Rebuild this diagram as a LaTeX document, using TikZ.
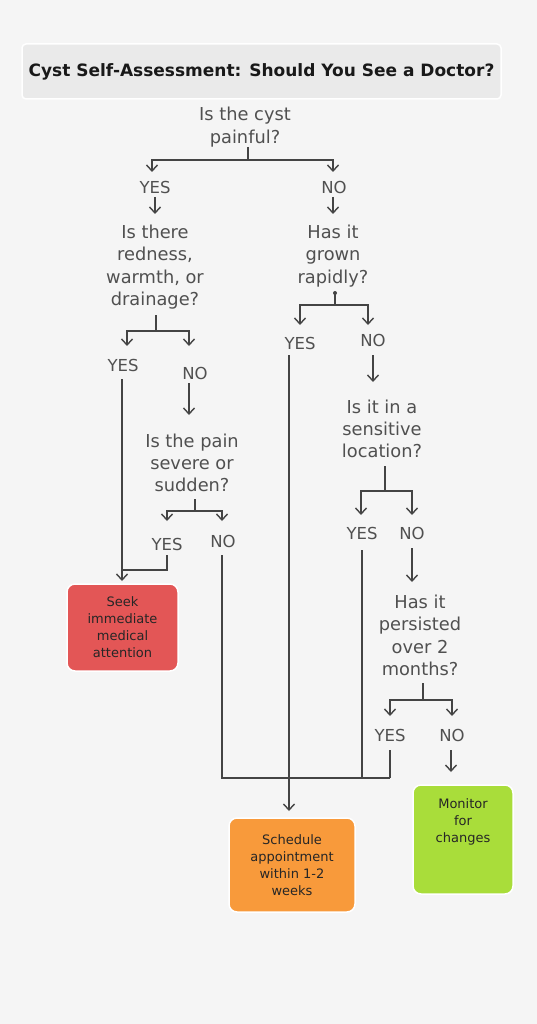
\documentclass[tikz,border=0pt]{standalone}
\usepackage{fontspec}
\setmainfont{DejaVu Sans}
\usetikzlibrary{arrows.meta}
\definecolor{bg}{HTML}{F5F5F5}
\definecolor{titlebg}{HTML}{EAEAEA}
\definecolor{lncol}{HTML}{444444}
\definecolor{txt}{HTML}{505050}
\definecolor{redf}{HTML}{E35656}
\definecolor{orf}{HTML}{F89A3B}
\definecolor{grf}{HTML}{A9DD3A}
\begin{document}
\begin{tikzpicture}[x=1pt,y=-1pt,
 q/.style={align=center, text=txt, font=\fontsize{17.8}{22.3}\selectfont, inner sep=0pt},
 ans/.style={text=txt, font=\fontsize{16.5}{18}\selectfont, inner sep=0pt},
 res/.style={rounded corners=8pt, draw=white, line width=1.5pt, align=center,
   font=\fontsize{13}{17}\selectfont, text=black!85, inner sep=0pt},
 ln/.style={draw=lncol, line width=1.4pt},
 arr/.style={ln, -{Straight Barb[length=6pt,width=11pt,line width=1.4pt]}},
]
\useasboundingbox (0,0) rectangle (537,1024);
\fill[bg] (0,0) rectangle (537,1024);

% title
\node[draw=white, line width=1.5pt, fill=titlebg, rounded corners=4pt,
  minimum width=479pt, minimum height=55pt, inner sep=0pt,
  font=\bfseries\fontsize{17}{20}\selectfont, text=black!90] (title) at (261.5,71.5)
  {Cyst Self-Assessment: Should You See a Doctor?};

% questions
\node[q] (q1) at (245,127) {Is the cyst\\painful?};
\node[q] (q2) at (155,267) {Is there\\redness,\\warmth, or\\drainage?};
\node[q] (q3) at (333,256) {Has it\\grown\\rapidly?};
\node[q] (q4) at (192,463) {Is the pain\\severe or\\sudden?};
\node[q] (q5) at (382,429) {Is it in a\\sensitive\\location?};
\node[q] (q6) at (420,635.5) {Has it\\persisted\\over 2\\months?};

% answers
\node[ans] (y1) at (155,187) {YES};
\node[ans] (n1) at (334,187) {NO};
\node[ans] (y2) at (123,365) {YES};
\node[ans] (n2) at (195,373) {NO};
\node[ans] (y3) at (300,343) {YES};
\node[ans] (n3) at (373,340) {NO};
\node[ans] (y4) at (167,544) {YES};
\node[ans] (n4) at (223,541) {NO};
\node[ans] (y5) at (362,533) {YES};
\node[ans] (n5) at (412,533) {NO};
\node[ans] (y6) at (390,735) {YES};
\node[ans] (n6) at (452,735) {NO};

% results
\node[res, fill=redf, minimum width=111pt, minimum height=87pt] (red) at (122.5,627.5)
  {Seek\\immediate\\medical\\attention};
\node[res, fill=orf, minimum width=126pt, minimum height=94pt] (ora) at (292,865)
  {Schedule\\appointment\\within 1-2\\weeks};
\node[res, fill=grf, minimum width=100pt, minimum height=109pt] (gre) at (463,839.5) {};
\node[align=center, font=\fontsize{13}{17}\selectfont, text=black!85, inner sep=0pt]
  (gret) at (463,822) {Monitor\\for\\changes};

% coordinates
\coordinate (j1) at (248,160);
\coordinate (t1y) at (152,172);
\coordinate (t1n) at (333,172);
\coordinate (j2) at (156,331);
\coordinate (t2y) at (127,346);
\coordinate (t2n) at (189,346);
\coordinate (d3) at (335,293);
\coordinate (j3) at (335,305);
\coordinate (t3y) at (300,325);
\coordinate (t3n) at (368,325);
\coordinate (j4) at (195,511);
\coordinate (t4y) at (167,521);
\coordinate (t4n) at (222,521);
\coordinate (j5) at (385,491);
\coordinate (t5y) at (361,515);
\coordinate (t5n) at (412,515);
\coordinate (j6) at (423,700);
\coordinate (t6y) at (390,716);
\coordinate (t6n) at (452,716);
\coordinate (m1) at (122,570);
\coordinate (m2) at (222,778);
\coordinate (m3) at (390,778);

% Q1
\draw[ln] (248,147) -- (j1);
\draw[arr] (j1) -| (t1y);
\draw[arr] (j1) -| (t1n);
\draw[arr] (155,197) -- (155,214);
\draw[arr] (333,197) -- (333,214);
% Q2
\draw[ln] (156,315) -- (j2);
\draw[arr] (j2) -| (t2y);
\draw[arr] (j2) -| (t2n);
\draw[arr] (122,379) -- (122,581);
\draw[arr] (189,383) -- (189,415);
% Q3
\fill[lncol] (d3) circle (2pt);
\draw[ln] (d3) -- (j3);
\draw[arr] (j3) -| (t3y);
\draw[arr] (j3) -| (t3n);
\draw[arr] (289,355) -- (289,811);
\draw[arr] (373,355) -- (373,382);
% Q4
\draw[ln] (195,499) -- (j4);
\draw[arr] (j4) -| (t4y);
\draw[arr] (j4) -| (t4n);
\draw[ln] (167,555) |- (m1);
\draw[ln] (222,555) -- (m2) -- (m3);
% Q5
\draw[ln] (385,466) -- (j5);
\draw[arr] (j5) -| (t5y);
\draw[arr] (j5) -| (t5n);
\draw[ln] (362,550) -- (362,778);
\draw[arr] (412,548) -- (412,582);
% Q6
\draw[ln] (423,683) -- (j6);
\draw[arr] (j6) -| (t6y);
\draw[arr] (j6) -| (t6n);
\draw[ln] (390,750) -- (m3);
\draw[arr] (451,750) -- (451,772);
\end{tikzpicture}
\end{document}
